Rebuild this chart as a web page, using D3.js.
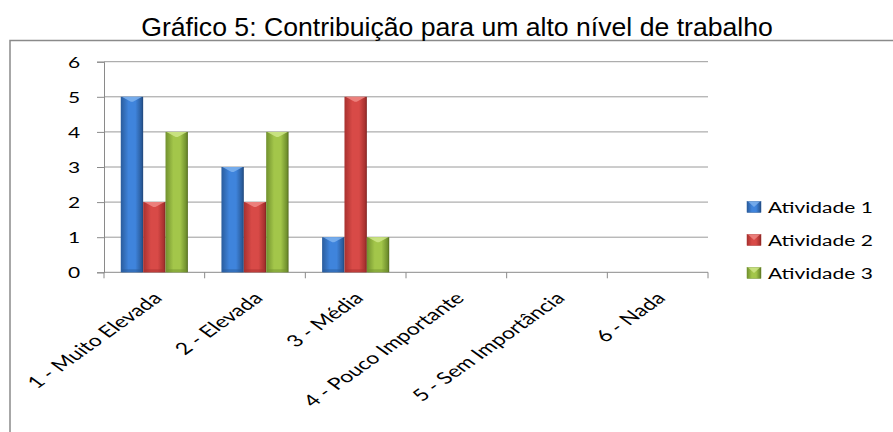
<!DOCTYPE html>
<html>
<head>
<meta charset="utf-8">
<script src="https://cdn.jsdelivr.net/npm/d3@7"></script>
<style>
  html, body { margin: 0; padding: 0; background: #fff; }
  svg { display: block; }
</style>
</head>
<body>
<svg id="chart" width="893" height="432"></svg>
<script>
// Data
const categories = ["1 - Muito Elevada", "2 - Elevada", "3 - Média", "4 - Pouco Importante", "5 - Sem Importância", "6 - Nada"];
const seriesNames = ["Atividade 1", "Atividade 2", "Atividade 3"];
const atividade1 = [5, 3, 1, 0, 0, 0];
const atividade2 = [2, 2, 5, 0, 0, 0];
const atividade3 = [4, 4, 1, 0, 0, 0];
const yTicks = [0, 1, 2, 3, 4, 5, 6];
const titleText = "Gráfico 5: Contribuição para um alto nível de trabalho";

const seriesValues = [atividade1, atividade2, atividade3];
const palette = [
  { mid: "#3f84dc", edge: "#2a5c9c", dark: "#1f4578", top: "#7fb3ee" },
  { mid: "#d84a47", edge: "#a8312f", dark: "#7c2220", top: "#f08a86" },
  { mid: "#a3c64a", edge: "#71912e", dark: "#52691f", top: "#cfe68a" }
];

const svg = d3.select("#chart");
const sx = 1.4; // horizontal stretch applied to text glyphs
const txtFont = "Lato, 'Open Sans', sans-serif";

const plot = { left: 104, right: 708, top: 61.7, bottom: 272.3 };

// outer frame
svg.append("rect")
  .attr("x", 10).attr("y", 40.5)
  .attr("width", 900).attr("height", 420)
  .attr("fill", "none").attr("stroke", "#8a8a8a").attr("stroke-width", 1.5);

// title
svg.append("text")
  .attr("transform", `translate(457,36) scale(1.065,1)`)
  .attr("text-anchor", "middle")
  .attr("font-family", "'Liberation Sans', Arial, sans-serif")
  .attr("font-size", 25)
  .attr("fill", "#000")
  .text(titleText);

const x = d3.scaleBand().domain(categories).range([plot.left, plot.right]).paddingInner(0).paddingOuter(0);
const y = d3.scaleLinear().domain([0, 6]).range([plot.bottom, plot.top]);

// gradients per series
const defs = svg.append("defs");
palette.forEach((p, i) => {
  const g = defs.append("linearGradient").attr("id", "g" + i)
    .attr("x1", "0%").attr("x2", "100%").attr("y1", "0%").attr("y2", "0%");
  g.append("stop").attr("offset", "0%").attr("stop-color", p.edge);
  g.append("stop").attr("offset", "35%").attr("stop-color", p.mid);
  g.append("stop").attr("offset", "65%").attr("stop-color", p.mid);
  g.append("stop").attr("offset", "92%").attr("stop-color", p.edge);
  g.append("stop").attr("offset", "100%").attr("stop-color", p.dark);
});

// gridlines
svg.append("g").selectAll("line").data(yTicks.slice(1)).join("line")
  .attr("x1", plot.left).attr("x2", plot.right)
  .attr("y1", d => y(d)).attr("y2", d => y(d))
  .attr("stroke", "#9a9a9a").attr("stroke-width", 1);

// y axis
const yAxis = svg.append("g").attr("transform", `translate(${plot.left},0)`)
  .call(d3.axisLeft(y).tickValues(yTicks).tickSize(7).tickPadding(0).tickFormat(d3.format("d")));
yAxis.select(".domain").attr("stroke", "#8a8a8a");
yAxis.selectAll(".tick line").attr("stroke", "#8a8a8a");
yAxis.selectAll(".tick text").remove();
yAxis.selectAll(".tick").append("text")
  .attr("transform", `translate(-30,5.5) scale(${sx},1)`)
  .attr("text-anchor", "middle")
  .attr("font-family", txtFont).attr("font-size", 15).attr("fill", "#000")
  .text(d => d);

// x axis baseline and tick marks at band boundaries
const boundaries = categories.map(c => x(c)).concat([plot.right]);
svg.append("line")
  .attr("x1", plot.left).attr("x2", plot.right)
  .attr("y1", plot.bottom).attr("y2", plot.bottom)
  .attr("stroke", "#8a8a8a");
svg.append("g").selectAll("line").data(boundaries).join("line")
  .attr("x1", d => d).attr("x2", d => d)
  .attr("y1", plot.bottom).attr("y2", plot.bottom + 6)
  .attr("stroke", "#8a8a8a");

// category labels (rotated)
svg.append("g").selectAll("text").data(categories).join("text")
  .attr("transform", d => `translate(${x(d) + x.bandwidth() / 2 + 9},${plot.bottom + 27}) scale(${sx},1) rotate(-45)`)
  .attr("text-anchor", "end")
  .attr("font-family", txtFont).attr("font-size", 16.5).attr("fill", "#000")
  .text(d => d);

// bars
const barW = x.bandwidth() / 4.5;
const groupOffset = barW * 0.75;
seriesValues.forEach((vals, si) => {
  const p = palette[si];
  const g = svg.append("g");
  const bars = g.selectAll("g").data(categories.map((c, i) => ({ c, v: vals[i] })).filter(d => d.v > 0)).join("g");
  bars.append("rect")
    .attr("x", d => x(d.c) + groupOffset + si * barW)
    .attr("y", d => y(d.v))
    .attr("width", barW)
    .attr("height", d => y(0) - y(d.v))
    .attr("fill", `url(#g${si})`);
  // bevelled top highlight
  bars.append("path")
    .attr("d", d => {
      const x0 = x(d.c) + groupOffset + si * barW;
      const y0 = y(d.v);
      return `M${x0 + 1},${y0} L${x0 + barW - 1},${y0} L${x0 + barW / 2 + 1},${y0 + 5} L${x0 + barW / 2 - 1},${y0 + 5} Z`;
    })
    .attr("fill", p.top).attr("opacity", 0.85);
  // bottom shade
  bars.append("rect")
    .attr("x", d => x(d.c) + groupOffset + si * barW + 1)
    .attr("y", y(0) - 3)
    .attr("width", barW - 2)
    .attr("height", 3)
    .attr("fill", p.edge).attr("opacity", 0.5);
});

// legend
const legend = svg.append("g");
const legendRows = [207, 240, 273];
seriesNames.forEach((name, i) => {
  const p = palette[i];
  legend.append("rect")
    .attr("x", 747).attr("y", legendRows[i] - 5.5)
    .attr("width", 14).attr("height", 11)
    .attr("fill", `url(#g${i})`).attr("stroke", p.edge).attr("stroke-width", 0.5);
  legend.append("path")
    .attr("d", `M748,${legendRows[i] - 5.5} L760,${legendRows[i] - 5.5} L754,${legendRows[i]} Z`)
    .attr("fill", p.top).attr("opacity", 0.8);
  legend.append("text")
    .attr("transform", `translate(768,${legendRows[i] + 6}) scale(${sx},1)`)
    .attr("font-family", txtFont).attr("font-size", 15).attr("fill", "#000")
    .text(name);
});
</script>
</body>
</html>
